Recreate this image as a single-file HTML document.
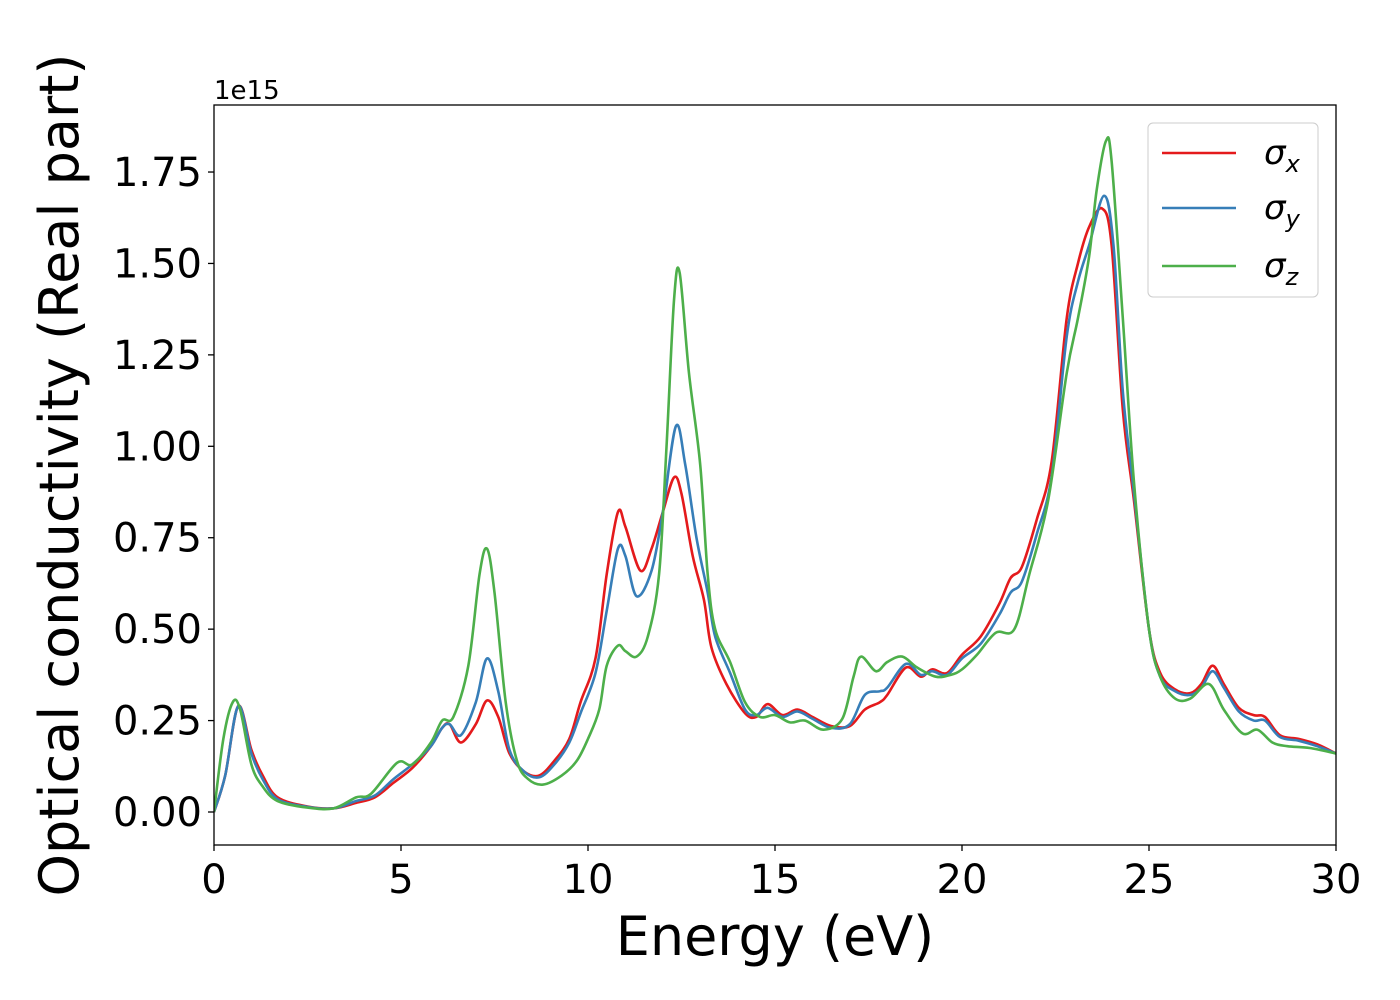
<!DOCTYPE html>
<html><head><meta charset="utf-8"><style>
body{margin:0;background:#fff;}
svg{display:block;font-family:"DejaVu Sans","Liberation Sans",sans-serif;}
</style></head><body>
<svg id="chart" width="1400" height="1000">
<g id="plot"></g>
<g id="axes"></g>
</svg>
<script>
const xTicks=[0,5,10,15,20,25,30];
const yTicks=[0,0.25,0.5,0.75,1.0,1.25,1.5,1.75];
const yTickLabels=["0.00","0.25","0.50","0.75","1.00","1.25","1.50","1.75"];
const seriesNames=["x","y","z"];
const seriesColors=["#e41a1c","#377eb8","#4daf4a"];
const energyX=[0,0.3,0.65,1.0,1.3,1.7,2.5,3.2,3.8,4.3,4.8,5.3,5.8,6.1,6.3,6.6,7.0,7.3,7.6,7.9,8.3,8.7,9.1,9.5,9.8,10.2,10.5,10.8,11.0,11.4,11.7,12.0,12.3,12.5,12.8,13.1,13.3,13.7,14.2,14.5,14.8,15.2,15.6,16.0,16.5,17.0,17.4,17.8,18.0,18.5,18.9,19.2,19.6,20.0,20.5,21.0,21.3,21.6,22.0,22.4,22.8,23.1,23.4,23.75,24.0,24.3,24.6,25.0,25.3,25.7,26.1,26.4,26.7,27.0,27.4,27.8,28.1,28.5,29.0,29.5,30];
const sigmaX=[0,0.1,0.29,0.17,0.1,0.04,0.015,0.01,0.025,0.04,0.08,0.12,0.18,0.23,0.24,0.19,0.24,0.305,0.26,0.16,0.11,0.1,0.14,0.2,0.3,0.42,0.65,0.82,0.78,0.66,0.72,0.82,0.915,0.87,0.7,0.58,0.45,0.35,0.27,0.26,0.295,0.265,0.28,0.26,0.235,0.235,0.28,0.3,0.32,0.395,0.37,0.39,0.38,0.43,0.48,0.57,0.64,0.67,0.8,0.96,1.35,1.5,1.6,1.65,1.55,1.1,0.85,0.5,0.38,0.335,0.325,0.35,0.4,0.35,0.285,0.265,0.26,0.21,0.2,0.185,0.16];
const energyY=[0,0.3,0.65,1.0,1.3,1.7,2.5,3.2,3.8,4.3,4.8,5.3,5.8,6.1,6.3,6.6,7.0,7.3,7.6,7.9,8.3,8.7,9.1,9.5,9.8,10.2,10.5,10.8,11.0,11.3,11.7,12.0,12.35,12.6,12.9,13.2,13.4,13.8,14.2,14.5,14.8,15.2,15.6,16.0,16.5,17.0,17.4,17.8,18.0,18.5,18.9,19.2,19.6,20.0,20.5,21.0,21.3,21.6,22.0,22.4,22.8,23.1,23.4,23.8,24.05,24.3,24.6,25.0,25.3,25.7,26.1,26.4,26.7,27.0,27.4,27.8,28.1,28.5,29.0,29.5,30];
const sigmaY=[0,0.1,0.29,0.16,0.09,0.035,0.014,0.01,0.03,0.045,0.09,0.13,0.18,0.23,0.24,0.21,0.3,0.42,0.33,0.17,0.11,0.095,0.13,0.19,0.27,0.38,0.55,0.72,0.7,0.59,0.66,0.82,1.055,0.95,0.75,0.6,0.48,0.38,0.28,0.265,0.285,0.26,0.275,0.255,0.23,0.24,0.32,0.33,0.34,0.405,0.375,0.385,0.375,0.42,0.46,0.54,0.6,0.63,0.76,0.92,1.3,1.45,1.55,1.685,1.55,1.15,0.87,0.5,0.37,0.33,0.32,0.34,0.385,0.34,0.275,0.25,0.25,0.205,0.195,0.18,0.16];
const energyZ=[0,0.25,0.5,0.7,1.0,1.3,1.7,2.5,3.2,3.8,4.2,4.9,5.3,5.8,6.1,6.4,6.8,7.1,7.3,7.5,7.8,8.1,8.4,8.8,9.3,9.7,10.0,10.3,10.5,10.8,11.0,11.3,11.6,11.9,12.1,12.3,12.45,12.7,13.0,13.2,13.4,13.8,14.2,14.6,15.0,15.4,15.8,16.3,16.8,17.1,17.3,17.7,18.0,18.4,18.8,19.3,19.7,20.0,20.4,20.9,21.4,21.8,22.3,22.8,23.1,23.4,23.6,23.85,24.0,24.3,24.6,25.0,25.3,25.7,26.1,26.6,27.0,27.5,27.9,28.3,28.7,29.3,30];
const sigmaZ=[0,0.2,0.3,0.28,0.13,0.07,0.03,0.012,0.01,0.04,0.05,0.135,0.13,0.19,0.25,0.26,0.4,0.65,0.72,0.6,0.3,0.14,0.09,0.075,0.1,0.14,0.2,0.28,0.4,0.455,0.44,0.425,0.48,0.65,1.0,1.4,1.475,1.2,0.95,0.65,0.5,0.41,0.3,0.26,0.265,0.245,0.25,0.225,0.255,0.37,0.425,0.385,0.41,0.425,0.395,0.37,0.375,0.39,0.43,0.49,0.5,0.65,0.85,1.2,1.35,1.52,1.7,1.835,1.78,1.35,0.9,0.5,0.37,0.31,0.31,0.35,0.28,0.215,0.225,0.19,0.18,0.175,0.16];

const L=214,R=1336,T=105,B=845;
const xs=e=>L+(e-0)/(30-0)*(R-L);
const ys=v=>812-v*365.7;
const NS="http://www.w3.org/2000/svg";
function mk(tag,attrs,parent){const el=document.createElementNS(NS,tag);for(const k in attrs)el.setAttribute(k,attrs[k]);parent.appendChild(el);return el;}
function pathFor(ex,vy){
  const p=ex.map((e,i)=>[xs(e),ys(vy[i])]);
  let d="M"+p[0][0]+","+p[0][1];
  for(let i=0;i<p.length-1;i++){
    const p0=p[Math.max(0,i-1)],p1=p[i],p2=p[i+1],p3=p[Math.min(p.length-1,i+2)];
    const c1=[p1[0]+(p2[0]-p0[0])/6,p1[1]+(p2[1]-p0[1])/6];
    const c2=[p2[0]-(p3[0]-p1[0])/6,p2[1]-(p3[1]-p1[1])/6];
    d+=" C"+c1[0]+","+c1[1]+" "+c2[0]+","+c2[1]+" "+p2[0]+","+p2[1];
  }
  return d;
}
const plot=document.getElementById('plot');
const axes=document.getElementById('axes');
const clip=mk('clipPath',{id:'clp'},document.getElementById('chart'));
mk('rect',{x:L,y:T,width:R-L,height:B-T},clip);
const data=[[energyX,sigmaX],[energyY,sigmaY],[energyZ,sigmaZ]];
data.forEach((s,i)=>{
  const p=mk('path',{d:pathFor(s[0],s[1]),fill:'none',stroke:seriesColors[i],'stroke-width':2.6,'clip-path':'url(#clp)'},plot);
  
  
});
const frame=mk('rect',{x:L,y:T,width:R-L,height:B-T,fill:'none',stroke:'#000','stroke-width':1.3},axes);


xTicks.forEach(t=>{
  const x=xs(t);
  mk('line',{x1:x,x2:x,y1:B,y2:B+6,stroke:'#000','stroke-width':1.3},axes);
  const tx=mk('text',{x:x,y:B+48,'font-size':40,'text-anchor':'middle'},axes);
  tx.textContent=t;
  
  
});
yTicks.forEach((t,i)=>{
  const y=ys(t);
  mk('line',{x1:L-6,x2:L,y1:y,y2:y,stroke:'#000','stroke-width':1.3},axes);
  const tx=mk('text',{x:L-12,y:y+14,'font-size':40,'text-anchor':'end'},axes);
  tx.textContent=yTickLabels[i];
  
  
});
const off=mk('text',{x:L,y:99,'font-size':26},axes);off.textContent="1e15";


const xl=mk('text',{x:(L+R)/2,y:955,'font-size':54,'text-anchor':'middle'},axes);xl.textContent="Energy (eV)";


const yl=mk('text',{x:0,y:0,'font-size':54,'text-anchor':'middle',transform:'translate(78,475) rotate(-90)'},axes);yl.textContent="Optical conductivity (Real part)";


const lg=mk('g',{},axes);


mk('rect',{x:1148,y:123,width:170,height:174,rx:5,fill:'#fff','fill-opacity':0.8,stroke:'#ccc','stroke-width':1},lg);
const ly=[153,208,266];
seriesNames.forEach((n,i)=>{
  const g=mk('g',{},lg);
  
  
  mk('line',{x1:1162,x2:1236,y1:ly[i],y2:ly[i],stroke:seriesColors[i],'stroke-width':2.6},g);
  const t=mk('text',{x:1264,y:ly[i]+11,'font-size':34,'font-style':'italic'},g);
  t.innerHTML='σ<tspan font-size="24" dy="8">'+n+'</tspan>';
});
</script>
</body></html>
